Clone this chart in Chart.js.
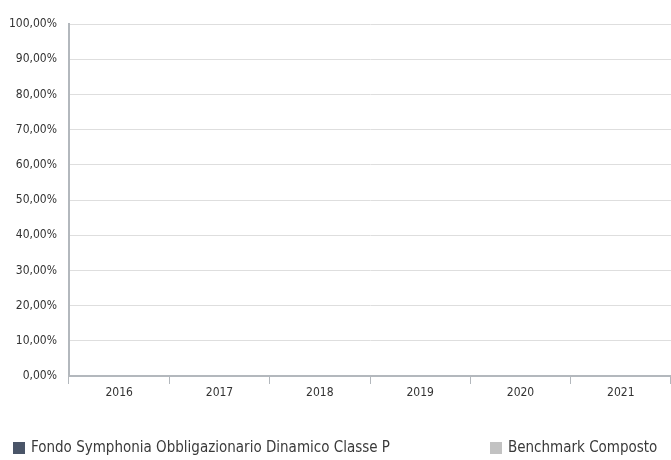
<html lang="it">
<head>
    <meta charset="UTF-8">
    <title>Rendimenti annuali</title>
    <script src="https://cdn.jsdelivr.net/npm/chart.js@4.4.1/dist/chart.umd.min.js"></script>
    <style>
        body { margin: 0; background: #fff; }
        #wrap { width: 671px; height: 460px; position: relative; }
    </style>
</head>
<body>
    <div id="wrap"><canvas id="myChart"></canvas></div>
<script>
    // Dati del grafico
    var anni = ['2016', '2017', '2018', '2019', '2020', '2021'];
    var fondo = [null, null, null, null, null, null];
    var benchmark = [null, null, null, null, null, null];
    var nomeFondo = 'Fondo Symphonia Obbligazionario Dinamico Classe P';
    var nomeBenchmark = 'Benchmark Composto';
    var yMin = 0, yMax = 100, yStep = 10;

    var FONT = "'DejaVu Sans Condensed', 'Liberation Sans Narrow', 'Roboto', sans-serif";
    var AXIS = '#b3b8bd';

    // Legenda disegnata a mano (posizioni come nel riferimento)
    var legendaPlugin = {
        id: 'legenda',
        afterDraw: function (chart) {
            var ctx = chart.ctx;
            var pos = [13, 490];
            ctx.save();
            ctx.font = '15px ' + FONT;
            ctx.textBaseline = 'middle';
            chart.data.datasets.forEach(function (ds, i) {
                ctx.fillStyle = ds.backgroundColor;
                ctx.fillRect(pos[i], 442, 12, 12);
                ctx.fillStyle = '#3a3a3a';
                ctx.fillText(ds.label, pos[i] + 18, 448);
            });
            ctx.restore();
        }
    };

    var ctx = document.getElementById('myChart').getContext('2d');
    var myChart = new Chart(ctx, {
        type: 'bar',
        data: {
            labels: anni,
            datasets: [
                { label: nomeFondo, data: fondo, backgroundColor: '#4a5568' },
                { label: nomeBenchmark, data: benchmark, backgroundColor: '#c2c2c2' }
            ]
        },
        options: {
            responsive: true,
            maintainAspectRatio: false,
            animation: false,
            layout: { padding: { top: 24, right: 0, bottom: 0, left: 0 } },
            plugins: {
                legend: { display: false },
                tooltip: { enabled: false }
            },
            scales: {
                x: {
                    grid: {
                        display: true,
                        drawOnChartArea: false,
                        offset: true,
                        color: AXIS,
                        tickLength: 8,
                        lineWidth: 1
                    },
                    border: { color: AXIS, width: 2 },
                    ticks: {
                        color: '#333',
                        font: { family: FONT, size: 12 },
                        padding: 2,
                        maxRotation: 0
                    },
                    afterFit: function (scale) { scale.height = 84; }
                },
                y: {
                    min: yMin,
                    max: yMax,
                    grid: { color: '#dedede', drawTicks: false, lineWidth: 1 },
                    border: { color: AXIS, width: 2 },
                    ticks: {
                        stepSize: yStep,
                        color: '#333',
                        padding: 12,
                        font: { family: FONT, size: 12 },
                        callback: function (v) {
                            return v.toFixed(2).replace('.', ',') + '%';
                        }
                    },
                    afterFit: function (scale) { scale.width = 69; }
                }
            }
        },
        plugins: [legendaPlugin]
    });
</script>
</body>
</html>
